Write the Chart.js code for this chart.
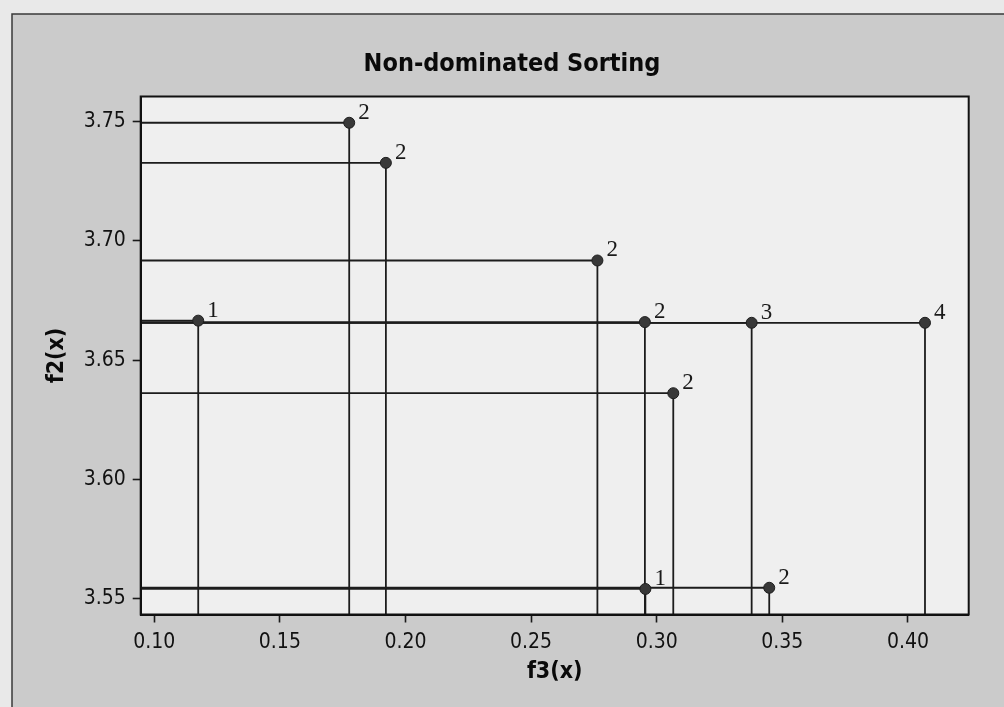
<!DOCTYPE html>
<html>
<head>
<meta charset="utf-8">
<script src="https://cdn.jsdelivr.net/npm/chart.js@4"></script>
<style>
html, body { margin: 0; padding: 0; background: #e9e9e9; }
</style>
</head>
<body>
<canvas id="chart" width="1004" height="707"></canvas>
<script>
const chartTitle = 'Non-dominated Sorting';
const xTitle = 'f3(x)';
const yTitle = 'f2(x)';

// points: f3 on x, f2 on y, rank label next to each point
const f3 = [0.1175, 0.1776, 0.1922, 0.2764, 0.2953, 0.3378, 0.4068, 0.3066, 0.2955, 0.3448];
const f2 = [3.6666, 3.7495, 3.7327, 3.6918, 3.6660, 3.6657, 3.6657, 3.6362, 3.5542, 3.5547];
const rank = ['1', '2', '2', '2', '2', '3', '4', '2', '1', '2'];

const xTicks = [0.10, 0.15, 0.20, 0.25, 0.30, 0.35, 0.40];
const yTicks = [3.55, 3.60, 3.65, 3.70, 3.75];
const xMin = 0.0946, xMax = 0.4242;
const yMin = 3.5435, yMax = 3.7605;

const sansFont = '"DejaVu Sans Condensed", "DejaVu Sans", sans-serif';

const points = f3.map((x, i) => ({x: x, y: f2[i]}));

// drop lines: from left axis to the point, then down to the bottom axis
const dropLines = f3.map((x, i) => ({
    type: 'line',
    data: [{x: xMin, y: f2[i]}, {x: x, y: f2[i]}, {x: x, y: yMin}],
    borderColor: '#1c1c1c',
    borderWidth: 1.8,
    pointRadius: 0,
    fill: false,
    tension: 0
}));

const backdrop = {
    id: 'backdrop',
    beforeDraw(chart) {
        const ctx = chart.ctx;
        const a = chart.chartArea;
        ctx.save();
        ctx.fillStyle = '#e9e9e9';
        ctx.fillRect(0, 0, chart.width, chart.height);
        ctx.fillStyle = '#cbcbcb';
        ctx.fillRect(12, 14, chart.width - 12, chart.height - 14);
        ctx.strokeStyle = '#3a3a3a';
        ctx.lineWidth = 1.5;
        ctx.beginPath();
        ctx.moveTo(12, chart.height);
        ctx.lineTo(12, 14);
        ctx.lineTo(chart.width, 14);
        ctx.stroke();
        ctx.fillStyle = '#efefef';
        ctx.fillRect(a.left, a.top, a.right - a.left, a.bottom - a.top);
        ctx.restore();
    },
    afterDatasetsDraw(chart) {
        const ctx = chart.ctx;
        const a = chart.chartArea;
        ctx.save();
        // plot frame
        ctx.strokeStyle = '#111';
        ctx.lineWidth = 2;
        ctx.strokeRect(a.left, a.top, a.right - a.left, a.bottom - a.top);
        // rank labels
        const meta = chart.getDatasetMeta(0);
        ctx.fillStyle = '#1a1a1a';
        ctx.font = '23px "Liberation Serif", serif';
        ctx.textAlign = 'left';
        ctx.textBaseline = 'alphabetic';
        meta.data.forEach((el, i) => {
            ctx.fillText(rank[i], el.x + 9, el.y - 4);
        });
        // title
        ctx.font = 'bold 25px ' + sansFont;
        ctx.textAlign = 'center';
        ctx.textBaseline = 'middle';
        ctx.fillStyle = '#0a0a0a';
        ctx.fillText(chartTitle, 512, 64);
        ctx.restore();
    }
};

new Chart(document.getElementById('chart'), {
    type: 'scatter',
    data: {
        datasets: [{
            data: points,
            backgroundColor: '#383838',
            borderColor: '#1e1e1e',
            borderWidth: 1,
            pointRadius: 5.5,
            pointHoverRadius: 5.5
        }].concat(dropLines)
    },
    options: {
        responsive: false,
        animation: false,
        devicePixelRatio: 1,
        layout: { padding: { top: 96.5, right: 35.3, left: 0, bottom: 0 } },
        plugins: {
            legend: { display: false },
            tooltip: { enabled: false },
            title: { display: false }
        },
        scales: {
            x: {
                type: 'linear',
                min: xMin,
                max: xMax,
                afterBuildTicks: s => { s.ticks = xTicks.map(v => ({value: v})); },
                afterFit: s => { s.height = 92.5; },
                ticks: {
                    font: { family: sansFont, size: 21 },
                    color: '#111',
                    padding: 7,
                    maxRotation: 0,
                    autoSkip: false,
                    callback: v => v.toFixed(2)
                },
                grid: { display: true, drawOnChartArea: false, drawTicks: true, tickLength: 8, tickWidth: 1.6, color: '#1a1a1a' },
                border: { display: true, color: '#111', width: 2 },
                title: {
                    display: true,
                    text: xTitle,
                    color: '#0a0a0a',
                    font: { family: sansFont, size: 23, weight: 'bold' },
                    padding: { top: 0, bottom: 21 }
                }
            },
            y: {
                type: 'linear',
                min: yMin,
                max: yMax,
                afterBuildTicks: s => { s.ticks = yTicks.map(v => ({value: v})); },
                afterFit: s => { s.width = 140.7; },
                ticks: {
                    font: { family: sansFont, size: 21 },
                    color: '#111',
                    padding: 7,
                    autoSkip: false,
                    callback: v => v.toFixed(2)
                },
                grid: { display: true, drawOnChartArea: false, drawTicks: true, tickLength: 8, tickWidth: 1.6, color: '#1a1a1a' },
                border: { display: true, color: '#111', width: 2 },
                title: {
                    display: true,
                    text: yTitle,
                    color: '#0a0a0a',
                    font: { family: sansFont, size: 23, weight: 'bold' },
                    padding: { top: 43, bottom: 0 }
                }
            }
        }
    },
    plugins: [backdrop]
});
</script>
</body>
</html>
